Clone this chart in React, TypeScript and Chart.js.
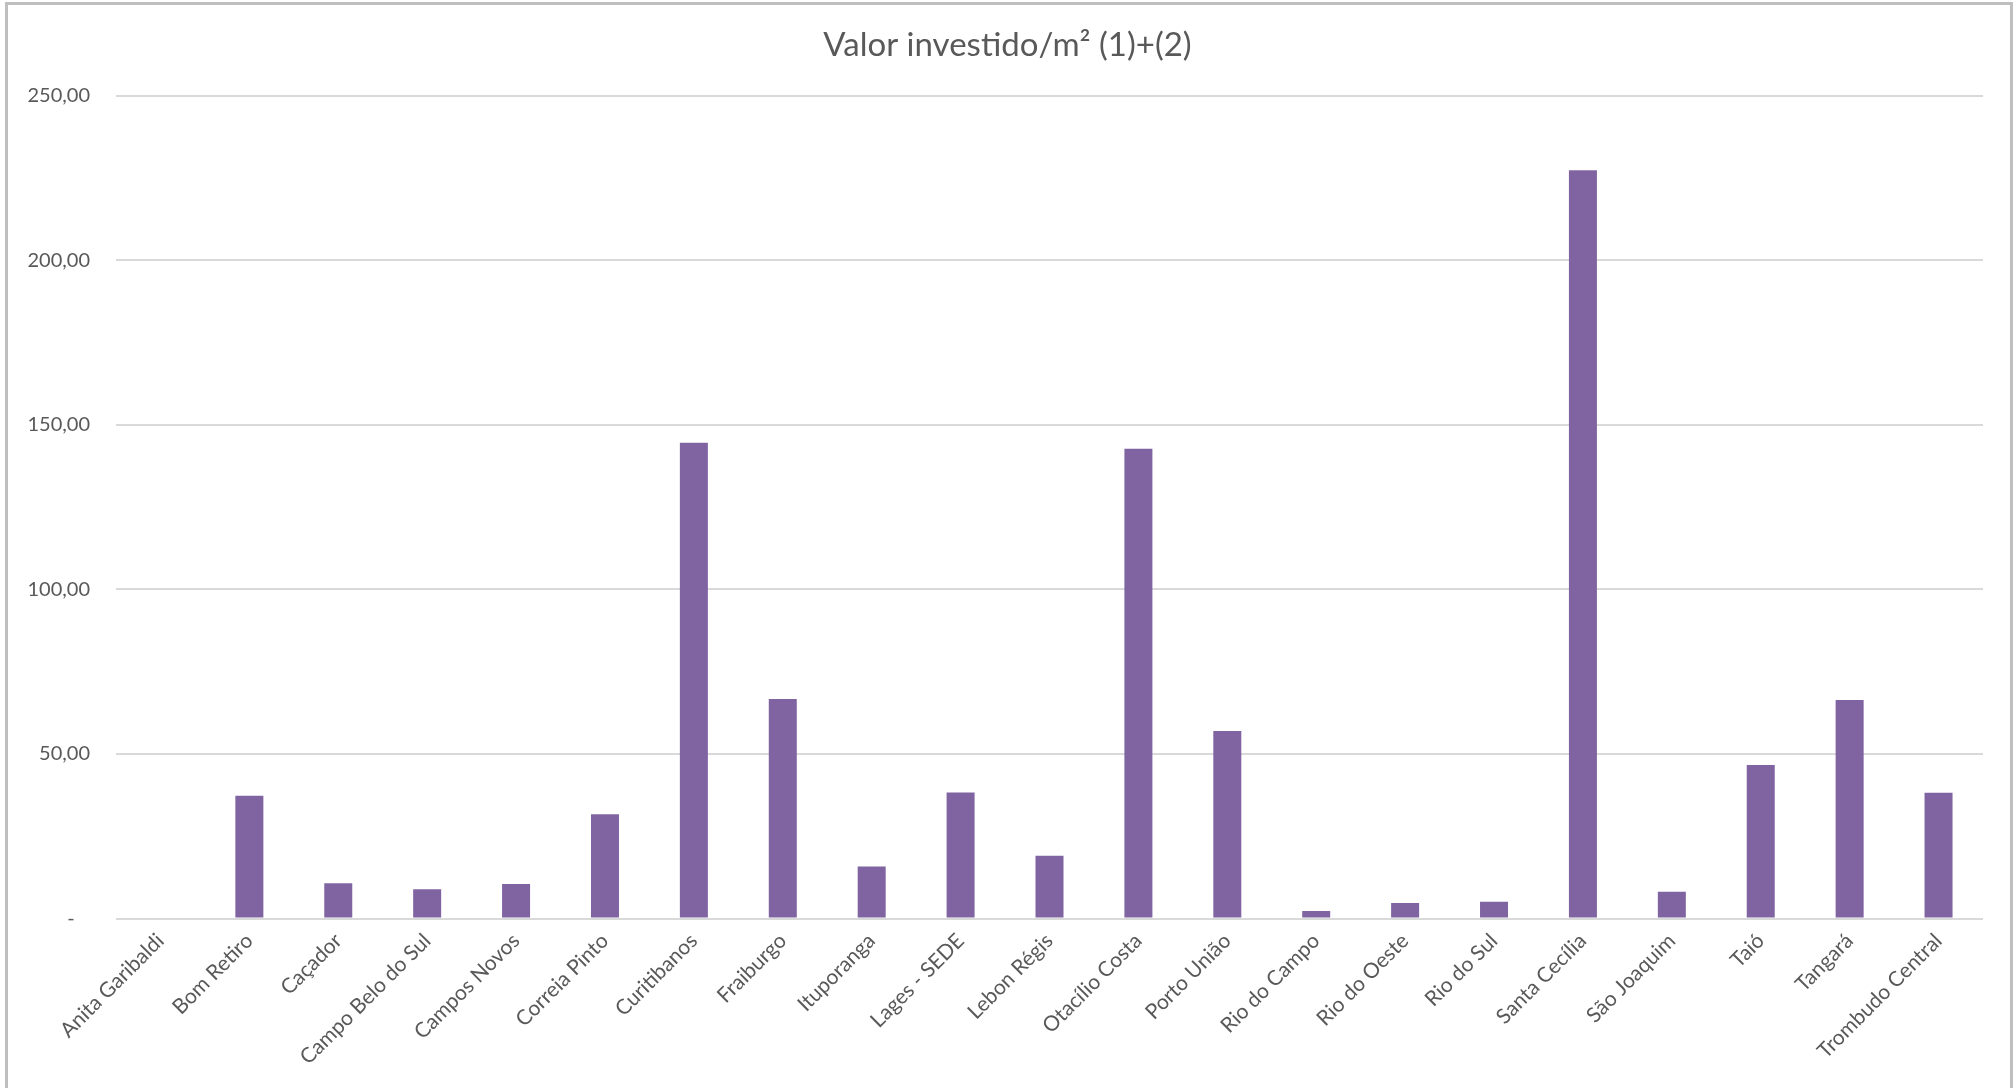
import React, { useEffect, useRef } from "react";
import { Chart, registerables } from "chart.js";

Chart.register(...registerables);

const titleText = "Valor investido/m² (1)+(2)";

const categories = [
  "Anita Garibaldi",
  "Bom Retiro",
  "Caçador",
  "Campo Belo do Sul",
  "Campos Novos",
  "Correia Pinto",
  "Curitibanos",
  "Fraiburgo",
  "Ituporanga",
  "Lages - SEDE",
  "Lebon Régis",
  "Otacílio Costa",
  "Porto União",
  "Rio do Campo",
  "Rio do Oeste",
  "Rio do Sul",
  "Santa Cecília",
  "São Joaquim",
  "Taió",
  "Tangará",
  "Trombudo Central",
];

const values = [
  0, 37.3, 10.7, 8.9, 10.5, 31.7, 144.5, 66.7, 15.8, 38.3, 19.1, 142.7, 57.0,
  2.3, 4.7, 5.1, 227.3, 8.1, 46.6, 66.4, 38.2,
];

const yTickValues = [0, 50, 100, 150, 200, 250];
const yTickLabels = ["-   ", "50,00", "100,00", "150,00", "200,00", "250,00"];

const BAR_COLOR = "#8064a2";
const TEXT_COLOR = "#595959";
const GRID_COLOR = "#d9d9d9";
const FONT = "Lato, 'Open Sans', sans-serif";

// centres the title on the whole canvas instead of the padded box
const titleCenterPlugin = {
  id: "titleCenter",
  afterLayout(chart: any) {
    const tb = chart.titleBlock;
    if (!tb) return;
    const shift = (chart.width - (tb.left + tb.right)) / 2;
    tb.left += shift;
    tb.right += shift;
  },
};

export default function App() {
  const canvasRef = useRef<HTMLCanvasElement | null>(null);

  useEffect(() => {
    document.body.style.margin = "0";
    const canvas = canvasRef.current;
    if (!canvas) return;
    const chart = new Chart(canvas, {
      type: "bar",
      data: {
        labels: categories,
        datasets: [
          {
            label: titleText,
            data: values,
            backgroundColor: BAR_COLOR,
            borderWidth: 0,
            barPercentage: 0.315,
            categoryPercentage: 1,
          },
        ],
      },
      plugins: [titleCenterPlugin],
      options: {
        animation: false,
        responsive: true,
        maintainAspectRatio: false,
        layout: { padding: { left: 0, right: 32, top: 0, bottom: 0 } },
        plugins: {
          legend: { display: false },
          tooltip: { enabled: false },
          title: {
            display: true,
            text: titleText,
            color: TEXT_COLOR,
            font: { family: FONT, size: 33, weight: "normal", lineHeight: 1.2 },
            padding: { top: 26, bottom: 30 },
          },
        },
        scales: {
          x: {
            offset: true,
            grid: { display: false, drawTicks: false },
            border: { display: false },
            ticks: {
              autoSkip: false,
              minRotation: 45,
              maxRotation: 45,
              color: TEXT_COLOR,
              font: { family: FONT, size: 21 },
              padding: 10,
            },
            afterFit: (scale: any) => {
              scale.height = 169.5;
            },
          },
          y: {
            min: 0,
            max: 250,
            afterBuildTicks: (scale: any) => {
              scale.ticks = yTickValues.map((v) => ({ value: v }));
            },
            grid: {
              color: GRID_COLOR,
              lineWidth: 2,
              drawTicks: false,
            },
            border: { display: false },
            ticks: {
              color: TEXT_COLOR,
              font: { family: FONT, size: 20 },
              padding: 26,
              callback: (value: any) => {
                const i = yTickValues.indexOf(Number(value));
                return i >= 0 ? yTickLabels[i] : "";
              },
            },
            afterFit: (scale: any) => {
              scale.width = 116;
            },
          },
        },
      },
    });
    return () => chart.destroy();
  }, []);

  return (
    <div style={{ position: "relative", width: 2015, height: 1088, overflow: "hidden", background: "#fff" }}>
      <div style={{ position: "absolute", left: 0, top: 0, width: 2015, height: 1088 }}>
        <canvas ref={canvasRef} />
      </div>
      <div
        style={{
          position: "absolute",
          left: 5,
          top: 2,
          width: 2008,
          height: 1200,
          border: "3px solid #bfbfbf",
          boxSizing: "border-box",
          pointerEvents: "none",
        }}
      />
    </div>
  );
}
